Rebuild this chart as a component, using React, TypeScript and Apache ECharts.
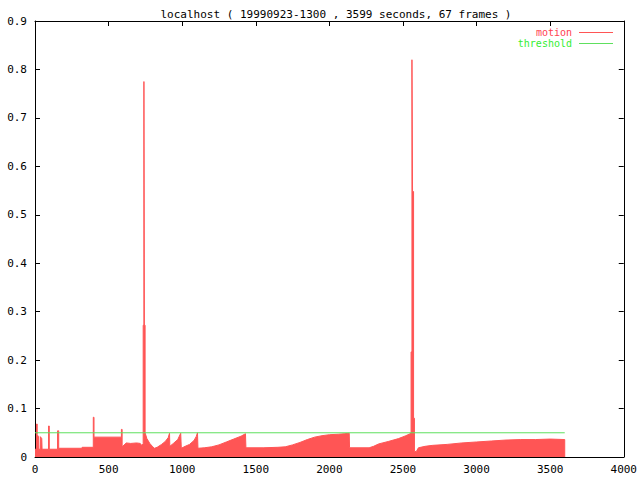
import React, { useEffect, useRef } from "react";
import * as echarts from "echarts";

const titleText = "localhost ( 19990923-1300 , 3599 seconds, 67 frames )";
const seriesNames = ["motion", "threshold"];
const xTicks = { min: 0, max: 4000, interval: 500 };
const yTicks = { min: 0, max: 0.9, interval: 0.1 };

// motion (seconds, value)
const motionSeconds = [
  0, 10, 10, 15, 15, 24, 26,
  36, 36, 46, 48,
  92, 92, 97, 97,
  153, 153, 161, 161,
  320, 320, 396, 396, 401, 401,
  587, 587, 592, 592,
  620, 650, 690, 715, 725, 735,
  735, 740, 740, 743, 743, 748, 748,
  760, 780, 800, 812,
  830, 860, 885, 905, 914, 916, 916,
  940, 970, 990, 994, 994,
  1020, 1050, 1080, 1095, 1104, 1107, 1107,
  1150, 1200, 1250, 1300, 1350, 1400, 1430, 1433, 1433,
  1550, 1650, 1700, 1750, 1800, 1850, 1900, 1950, 2000, 2060, 2100, 2135, 2137, 2137,
  2270, 2300, 2335, 2400, 2470, 2520, 2555,
  2555, 2561, 2561, 2565, 2565, 2572, 2572, 2578, 2578,
  2590, 2605, 2650, 2700, 2800, 2900, 3000, 3100, 3200, 3300, 3400, 3500, 3599, 3599,
];
const motionValues = [
  0.016, 0.016, 0.068, 0.068, 0.046, 0.042, 0.016,
  0.016, 0.042, 0.038, 0.016,
  0.016, 0.064, 0.064, 0.016,
  0.016, 0.054, 0.054, 0.018,
  0.018, 0.02, 0.02, 0.082, 0.082, 0.041,
  0.041, 0.057, 0.057, 0.021,
  0.029, 0.028, 0.029, 0.028, 0.024, 0.027,
  0.272, 0.272, 0.775, 0.775, 0.272, 0.272, 0.05,
  0.038, 0.028, 0.021, 0.018,
  0.02, 0.026, 0.032, 0.04, 0.049, 0.049, 0.022,
  0.028, 0.036, 0.049, 0.049, 0.018,
  0.022, 0.026, 0.034, 0.042, 0.05, 0.05, 0.018,
  0.019, 0.021, 0.025, 0.031, 0.037, 0.043, 0.048, 0.048, 0.019,
  0.019, 0.02, 0.021, 0.025, 0.03, 0.036, 0.041, 0.044, 0.046, 0.047, 0.048, 0.049, 0.049, 0.019,
  0.019, 0.022, 0.027, 0.032, 0.038, 0.044, 0.049,
  0.217, 0.217, 0.82, 0.82, 0.548, 0.548, 0.08, 0.08, 0.012,
  0.011, 0.019, 0.022, 0.024, 0.026, 0.029, 0.031, 0.033, 0.035, 0.036, 0.036, 0.037, 0.036, 0,
];
const thresholdSeconds = [0, 3599];
const thresholdValues = [0.05, 0.05];

const FONT = "DejaVu Sans Mono";
const RED = "#ff5555";
const GREEN = "#5ee05e";

export default function App() {
  const ref = useRef<HTMLDivElement>(null);
  useEffect(() => {
    if (!ref.current) return;
    const chart = echarts.init(ref.current, undefined, { renderer: "svg" });
    const axisLine = { show: true, onZero: false, lineStyle: { color: "#000", width: 1 } };
    const axisTick = { show: true, inside: true, length: 5, lineStyle: { color: "#000", width: 1 } };
    const labelStyle = { fontFamily: FONT, fontSize: 11, color: "#000" };
    chart.setOption({
      animation: false,
      backgroundColor: "#fff",
      title: {
        text: titleText,
        left: 331,
        textAlign: "center",
        top: 4,
        textStyle: { fontFamily: FONT, fontSize: 11, fontWeight: "normal", color: "#000" },
      },
      legend: {
        orient: "vertical",
        right: 27,
        top: 27,
        align: "right",
        padding: 0,
        itemGap: 0,
        itemWidth: 34,
        itemHeight: 1,
        icon: "rect",
        selectedMode: false,
        textStyle: { fontFamily: FONT, fontSize: 10, lineHeight: 11, padding: [0, 2, 0, 0] },
        data: [
          { name: seriesNames[0], textStyle: { color: "#ff4050" } },
          { name: seriesNames[1], textStyle: { color: "#33ee33" } },
        ],
      },
      grid: { left: 35, right: 14, top: 21, bottom: 23, containLabel: false },
      xAxis: [
        {
          type: "value",
          position: "bottom",
          ...xTicks,
          axisLine,
          axisTick,
          splitLine: { show: false },
          axisLabel: { ...labelStyle, margin: 7, formatter: (v: number) => String(v) },
        },
        {
          type: "value",
          position: "top",
          ...xTicks,
          axisLine,
          axisTick,
          splitLine: { show: false },
          axisLabel: { show: false },
        },
      ],
      yAxis: [
        {
          type: "value",
          position: "left",
          ...yTicks,
          axisLine,
          axisTick,
          splitLine: { show: false },
          axisLabel: {
            ...labelStyle,
            margin: 8,
            formatter: (v: number) => (v === 0 ? "0" : v.toFixed(1)),
          },
        },
        {
          type: "value",
          position: "right",
          ...yTicks,
          axisLine,
          axisTick,
          splitLine: { show: false },
          axisLabel: { show: false },
        },
      ],
      series: [
        {
          name: seriesNames[0],
          type: "line",
          xAxisIndex: 0,
          yAxisIndex: 0,
          showSymbol: false,
          symbol: "none",
          color: RED,
          lineStyle: { color: RED, width: 1 },
          areaStyle: { color: RED, opacity: 1 },
          data: motionSeconds.map((s, i) => [s, motionValues[i]]),
          z: 2,
        },
        {
          name: seriesNames[1],
          type: "line",
          xAxisIndex: 0,
          yAxisIndex: 0,
          showSymbol: false,
          symbol: "none",
          color: GREEN,
          lineStyle: { color: GREEN, width: 1 },
          data: thresholdSeconds.map((s, i) => [s, thresholdValues[i]]),
          z: 3,
        },
      ],
    });
    return () => chart.dispose();
  }, []);
  return (
    <div
      ref={ref}
      style={{ position: "fixed", left: 0, top: 0, width: 640, height: 480, background: "#fff" }}
    />
  );
}
